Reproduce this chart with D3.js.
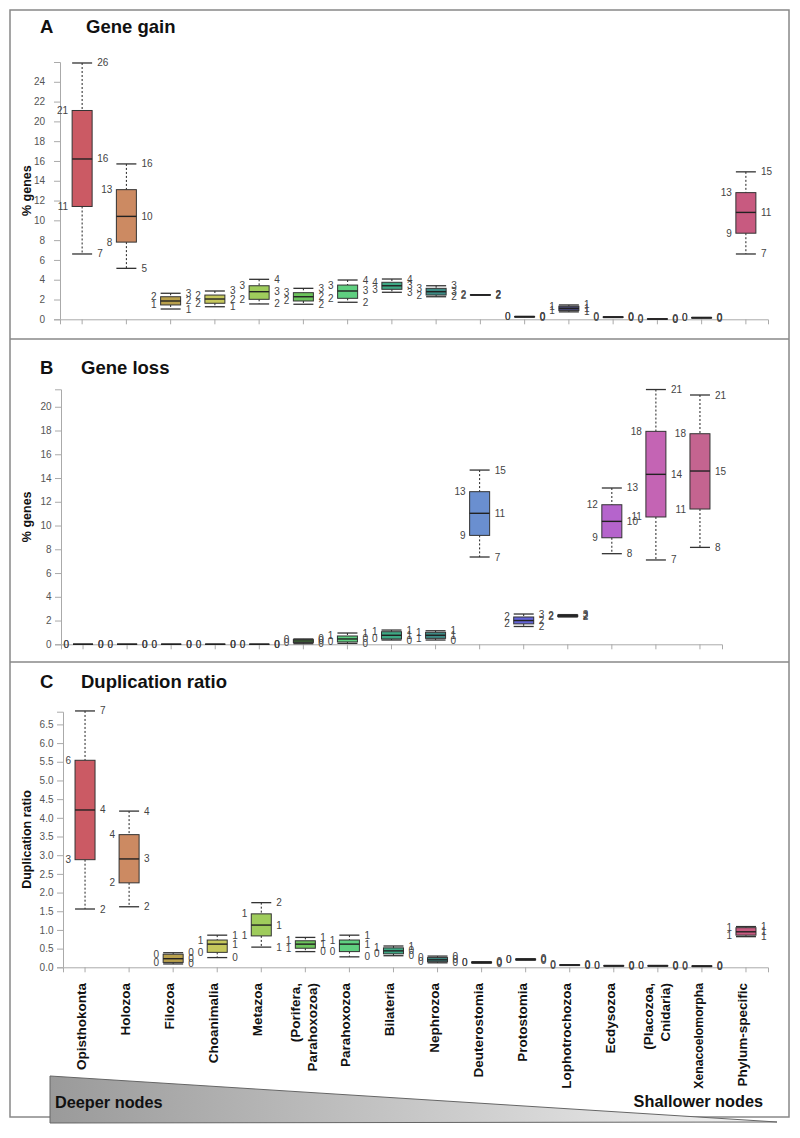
<!DOCTYPE html>
<html>
<head>
<meta charset="utf-8">
<script src="https://cdn.jsdelivr.net/npm/d3@7"></script>
<style>
  html, body { margin: 0; padding: 0; background: #fff; }
  svg text { font-family: "Liberation Sans", Arial, sans-serif; }
</style>
</head>
<body>
<svg id="chart" width="800" height="1138"></svg>
<script>
// ---------- DATA ----------
const categories = ["Opisthokonta", "Holozoa", "Filozoa", "Choanimalia", "Metazoa",
  "(Porifera, Parahoxozoa)", "Parahoxozoa", "Bilateria", "Nephrozoa", "Deuterostomia",
  "Protostomia", "Lophotrochozoa", "Ecdysozoa", "(Placozoa, Cnidaria)", "Xenacoelomorpha",
  "Phylum-specific"];

const colors = ["#cb5a64", "#cc8a62", "#b9a04c", "#c6c85c", "#9fcc5c", "#6cc45c",
  "#5fcf80", "#3ea884", "#3d8b85", "#6a8fd0", "#6464d6", "#4a4a78", "#b564cc",
  "#c464b4", "#c46490", "#c85a80"];

// each entry: [lower whisker, Q1, median, Q3, upper whisker]
const geneGain = [
  [6.6, 11.4, 16.2, 21.1, 25.9],
  [5.15, 7.8, 10.4, 13.1, 15.7],
  [1.04, 1.45, 1.85, 2.28, 2.63],
  [1.27, 1.62, 2.05, 2.45, 2.86],
  [1.55, 2.02, 2.79, 3.39, 4.04],
  [1.52, 1.85, 2.28, 2.69, 3.13],
  [1.72, 2.12, 2.86, 3.46, 3.97],
  [2.73, 3.03, 3.39, 3.74, 4.07],
  [2.28, 2.45, 2.79, 3.13, 3.39],
  [2.42, 2.45, 2.47, 2.49, 2.49],
  [0.22, 0.24, 0.26, 0.28, 0.30],
  [0.75, 0.88, 1.10, 1.32, 1.45],
  [0.18, 0.20, 0.22, 0.24, 0.26],
  [0.01, 0.02, 0.03, 0.04, 0.05],
  [0.12, 0.14, 0.16, 0.18, 0.20],
  [6.6, 8.7, 10.8, 12.8, 14.9]
];

const geneLoss = [
  [0, 0, 0, 0, 0],
  [0, 0, 0, 0, 0],
  [0, 0, 0, 0, 0],
  [0, 0, 0, 0, 0],
  [0, 0, 0, 0, 0],
  [0.05, 0.15, 0.28, 0.40, 0.45],
  [0.08, 0.20, 0.45, 0.70, 0.95],
  [0.36, 0.45, 0.76, 1.06, 1.20],
  [0.36, 0.50, 0.76, 1.01, 1.14],
  [7.35, 9.17, 11.03, 12.85, 14.67],
  [1.50, 1.72, 2.00, 2.30, 2.55],
  [2.30, 2.34, 2.40, 2.46, 2.50],
  [7.63, 8.97, 10.35, 11.75, 13.16],
  [7.10, 10.72, 14.31, 17.93, 21.45],
  [8.16, 11.39, 14.59, 17.73, 20.99]
];

const dupRatio = [
  [1.56, 2.88, 4.21, 5.54, 6.86],
  [1.62, 2.26, 2.90, 3.55, 4.18],
  [0.09, 0.13, 0.23, 0.35, 0.39],
  [0.26, 0.40, 0.62, 0.73, 0.86],
  [0.54, 0.84, 1.13, 1.43, 1.73],
  [0.42, 0.51, 0.62, 0.71, 0.80],
  [0.28, 0.42, 0.62, 0.73, 0.86],
  [0.31, 0.36, 0.44, 0.52, 0.57],
  [0.12, 0.15, 0.20, 0.26, 0.30],
  [0.11, 0.12, 0.13, 0.14, 0.15],
  [0.19, 0.20, 0.21, 0.22, 0.23],
  [0.05, 0.055, 0.06, 0.065, 0.07],
  [0.03, 0.035, 0.04, 0.045, 0.05],
  [0.03, 0.035, 0.04, 0.045, 0.05],
  [0.02, 0.025, 0.03, 0.035, 0.04],
  [0.82, 0.86, 0.95, 1.06, 1.09]
];

const gainTicks = d3.range(0, 25, 2);
const lossTicks = d3.range(0, 21, 2);
const dupTicks = d3.range(0, 6.51, 0.5);

// ---------- LAYOUT ----------
const svg = d3.select("#chart");

const panels = [
  { letter: "A", title: "Gene gain", yLabel: "% genes", data: geneGain, ticks: gainTicks,
    fmt: d3.format("d"), yMax: 26, top: 62, bottom: 319.3, left: 60, right: 768,
    titleY: 33, titleX: 86, pad: 9 },
  { letter: "B", title: "Gene loss", yLabel: "% genes", data: geneLoss, ticks: lossTicks,
    fmt: d3.format("d"), yMax: 21.47, top: 389.3, bottom: 644.3, left: 61, right: 722,
    titleY: 374, titleX: 81, pad: 3.5 },
  { letter: "C", title: "Duplication ratio", yLabel: "Duplication ratio", data: dupRatio, ticks: dupTicks,
    fmt: d3.format(".1f"), yMax: 6.84, top: 711.7, bottom: 967.3, left: 63, right: 768,
    titleY: 688, titleX: 81, pad: 3.5 }
];

// frame
svg.append("rect").attr("x", 10).attr("y", 10).attr("width", 779).attr("height", 1107)
  .attr("fill", "none").attr("stroke", "#888").attr("stroke-width", 1.5);
[339, 662].forEach(yy => svg.append("line").attr("x1", 10).attr("x2", 789)
  .attr("y1", yy).attr("y2", yy).attr("stroke", "#888").attr("stroke-width", 1.5));

const boxW = 20;

panels.forEach((p, pi) => {
  const g = svg.append("g");
  const cats = categories.slice(0, p.data.length);
  const x = d3.scaleBand().domain(cats).range([p.left, p.right]);
  const y = d3.scaleLinear().domain([0, p.yMax]).range([p.bottom, p.top]);

  // title
  g.append("text").attr("x", 40).attr("y", p.titleY).attr("font-size", 18.5)
    .attr("font-weight", "bold").attr("fill", "#111").text(p.letter);
  g.append("text").attr("x", p.titleX).attr("y", p.titleY).attr("font-size", 18.5)
    .attr("font-weight", "bold").attr("fill", "#111").text(p.title);

  // y axis
  const ya = g.append("g").attr("transform", `translate(${p.left},0)`)
    .call(d3.axisLeft(y).tickValues(p.ticks).tickFormat(p.fmt).tickSize(6).tickSizeOuter(6).tickPadding(p.pad));
  ya.selectAll("path, line").attr("stroke", "#aaa");
  ya.selectAll("text").attr("fill", "#555").attr("font-size", 10)
    .style("font-family", '"Liberation Sans", Arial, sans-serif');

  // y label
  g.append("text")
    .attr("transform", `translate(31,${(p.top + p.bottom) / 2}) rotate(-90)`)
    .attr("text-anchor", "middle").attr("font-size", 12.5).attr("font-weight", "bold")
    .attr("fill", "#111").text(p.yLabel);

  // x axis
  const xa = g.append("g").attr("transform", `translate(0,${p.bottom})`)
    .call(d3.axisBottom(x).tickSize(5).tickSizeOuter(5).tickFormat(""));
  xa.selectAll("path, line").attr("stroke", "#aaa");

  // boxes
  const fmtV = v => String(Math.round(v));
  p.data.forEach((v, i) => {
    const [lo, q1, med, q3, hi] = v;
    const cx = x(categories[i]) + x.bandwidth() / 2;
    const bx = cx - boxW / 2;
    const bg = g.append("g");
    // whiskers
    bg.append("line").attr("x1", cx).attr("x2", cx).attr("y1", y(hi)).attr("y2", y(q3))
      .attr("stroke", "#222").attr("stroke-dasharray", "2,2").attr("stroke-width", 1);
    bg.append("line").attr("x1", cx).attr("x2", cx).attr("y1", y(q1)).attr("y2", y(lo))
      .attr("stroke", "#222").attr("stroke-dasharray", "2,2").attr("stroke-width", 1);
    // caps
    [hi, lo].forEach(c => bg.append("line").attr("x1", bx).attr("x2", bx + boxW)
      .attr("y1", y(c)).attr("y2", y(c)).attr("stroke", "#333").attr("stroke-width", 1.3));
    // box
    bg.append("rect").attr("x", bx).attr("y", y(q3)).attr("width", boxW)
      .attr("height", Math.max(0, y(q1) - y(q3)))
      .attr("fill", colors[i]).attr("stroke", "#333").attr("stroke-width", 1);
    // median
    bg.append("line").attr("x1", bx).attr("x2", bx + boxW).attr("y1", y(med)).attr("y2", y(med))
      .attr("stroke", "#222").attr("stroke-width", 1.4);
    // value labels
    const lab = (val, side) => bg.append("text")
      .attr("x", side === "r" ? bx + boxW + 5 : bx - 4)
      .attr("y", y(val)).attr("dy", "0.35em")
      .attr("text-anchor", side === "r" ? "start" : "end")
      .attr("font-size", 10).attr("fill", "#444").text(fmtV(val));
    lab(hi, "r"); lab(q3, "l"); lab(med, "r"); lab(q1, "l"); lab(lo, "r");
  });

  // category labels on bottom panel
  if (pi === 2) {
    categories.forEach((c, i) => {
      const cx = x(c) + x.bandwidth() / 2;
      const parts = c.indexOf(", ") >= 0 ? [c.split(", ")[0] + ",", c.split(", ")[1]] : [c];
      const fs = c.length > 14 && parts.length === 1 && c !== "Phylum-specific" ? 12.2 : 13.5;
      const t = g.append("g").attr("transform", `translate(${cx},983) rotate(-90)`);
      if (parts.length === 1) {
        t.append("text").attr("x", 0).attr("y", 1).attr("text-anchor", "end")
          .attr("font-size", fs).attr("font-weight", "bold").attr("fill", "#111").text(parts[0]);
      } else {
        t.append("text").attr("x", 0).attr("y", -5).attr("text-anchor", "end")
          .attr("font-size", fs).attr("font-weight", "bold").attr("fill", "#111").text(parts[0]);
        t.append("text").attr("x", 0).attr("y", 12).attr("text-anchor", "end")
          .attr("font-size", fs).attr("font-weight", "bold").attr("fill", "#111").text(parts[1]);
      }
    });
  }
});

// gradient wedge
const defs = svg.append("defs");
const grad = defs.append("linearGradient").attr("id", "wedge").attr("x1", "0").attr("x2", "1")
  .attr("y1", "0").attr("y2", "0");
grad.append("stop").attr("offset", "0%").attr("stop-color", "#9a9a9a");
grad.append("stop").attr("offset", "100%").attr("stop-color", "#f4f4f4");
svg.append("polygon").attr("points", "50,1076 777,1122 50,1123")
  .attr("fill", "url(#wedge)").attr("stroke", "#666").attr("stroke-width", 1);
svg.append("text").attr("x", 55).attr("y", 1108).attr("font-size", 16.3).attr("font-weight", "bold")
  .attr("fill", "#111").text("Deeper nodes");
svg.append("text").attr("x", 763).attr("y", 1107).attr("text-anchor", "end").attr("font-size", 16.3)
  .attr("font-weight", "bold").attr("fill", "#111").text("Shallower nodes");
</script>
</body>
</html>
